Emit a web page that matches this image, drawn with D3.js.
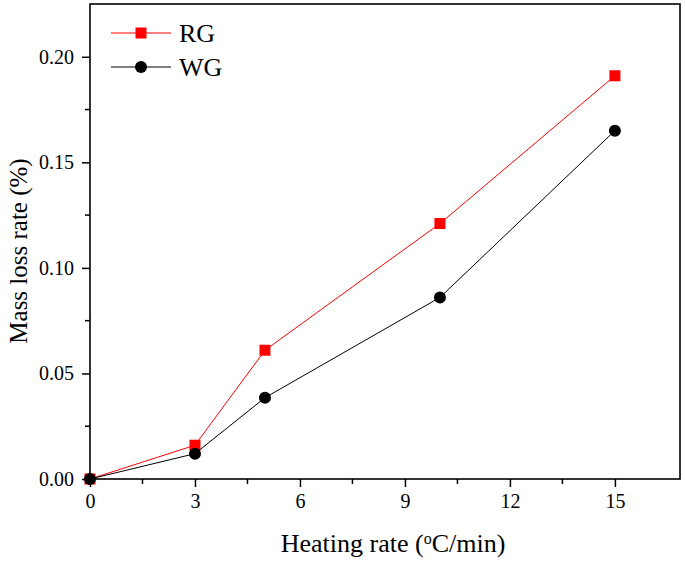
<!DOCTYPE html>
<html>
<head>
<meta charset="utf-8">
<script src="https://cdn.jsdelivr.net/npm/d3@7"></script>
<style>
  body { margin: 0; background: #fff; }
  svg { font-family: "Liberation Serif", "Times New Roman", serif; }
</style>
</head>
<body>
<div id="chart"></div>
<script>
// Data
const heatingRates = [0, 3, 5, 10, 15];
const rgValues = [0, 0.016, 0.061, 0.121, 0.191];
const wgValues = [0, 0.012, 0.0385, 0.086, 0.165];
const xTicks = [0, 3, 6, 9, 12, 15];
const yTicks = [0, 0.05, 0.10, 0.15, 0.20];

const width = 685;
const height = 563;
const margin = { top: 4, right: 5, bottom: 84, left: 90 };

const svg = d3.select('#chart')
    .append('svg')
    .attr('width', width)
    .attr('height', height);

const xScale = d3.scaleLinear()
    .domain([0, 16.86])
    .range([margin.left, width - margin.right]);

const yScale = d3.scaleLinear()
    .domain([0, 0.225])
    .range([height - margin.bottom, margin.top]);

// Frame
svg.append('rect')
    .attr('x', margin.left)
    .attr('y', margin.top)
    .attr('width', width - margin.right - margin.left)
    .attr('height', height - margin.bottom - margin.top)
    .attr('fill', 'none')
    .attr('stroke', '#000')
    .attr('stroke-width', 1.6);

// Minor ticks sit halfway between the labelled ones
const xMinor = d3.range(1.5, 16.5, 3);
const yMinor = d3.range(0.025, 0.225, 0.05);

const xAxis = svg.append('g')
    .attr('transform', `translate(0, ${height - margin.bottom})`)
    .call(d3.axisBottom(xScale).tickValues(xTicks).tickFormat(d3.format('d')).tickSize(8).tickPadding(7));
xAxis.append('g').selectAll('line')
    .data(xMinor)
    .join('line')
    .attr('x1', d => xScale(d)).attr('x2', d => xScale(d))
    .attr('y1', 0).attr('y2', 5)
    .attr('stroke', '#000').attr('stroke-width', 1.5);

const yAxis = svg.append('g')
    .attr('transform', `translate(${margin.left}, 0)`)
    .call(d3.axisLeft(yScale).tickValues(yTicks).tickFormat(d3.format('.2f')).tickSize(8).tickPadding(8));
yAxis.append('g').selectAll('line')
    .data(yMinor)
    .join('line')
    .attr('y1', d => yScale(d)).attr('y2', d => yScale(d))
    .attr('x1', 0).attr('x2', -5)
    .attr('stroke', '#000').attr('stroke-width', 1.5);

svg.selectAll('.domain').remove();
svg.selectAll('.tick line').attr('stroke-width', 1.5);
svg.selectAll('.tick text')
    .attr('font-size', 20)
    .attr('font-family', '"Liberation Serif", serif')
    .attr('fill', '#000');

// Axis titles
svg.append('text')
    .attr('x', 393)
    .attr('y', 552)
    .attr('text-anchor', 'middle')
    .attr('font-size', 26)
    .html('Heating rate (<tspan baseline-shift="super" font-size="16">o</tspan>C/min)');

svg.append('text')
    .attr('transform', `translate(27, 251) rotate(-90)`)
    .attr('text-anchor', 'middle')
    .attr('font-size', 25)
    .text('Mass loss rate (%)');

// Series
const series = [
    { name: 'RG', values: rgValues, color: '#ff0000', shape: 'square' },
    { name: 'WG', values: wgValues, color: '#000000', shape: 'circle' }
];

const line = d3.line()
    .x(d => xScale(d[0]))
    .y(d => yScale(d[1]));

function drawMarker(g, shape, color, x, y) {
    if (shape === 'square') {
        g.append('rect')
            .attr('x', x - 5.5).attr('y', y - 5.5)
            .attr('width', 11).attr('height', 11)
            .attr('fill', color);
    } else {
        g.append('circle')
            .attr('cx', x).attr('cy', y).attr('r', 6)
            .attr('fill', color);
    }
}

series.forEach(s => {
    const pts = heatingRates.map((h, i) => [h, s.values[i]]);
    svg.append('path')
        .datum(pts)
        .attr('d', line)
        .attr('fill', 'none')
        .attr('stroke', s.color)
        .attr('stroke-width', 1);
    const g = svg.append('g');
    pts.forEach(p => drawMarker(g, s.shape, s.color, xScale(p[0]), yScale(p[1])));
});

// Legend
series.forEach((s, i) => {
    const y = 33 + i * 34;
    const g = svg.append('g');
    g.append('line')
        .attr('x1', 111).attr('x2', 171)
        .attr('y1', y).attr('y2', y)
        .attr('stroke', s.color).attr('stroke-width', 1);
    drawMarker(g, s.shape, s.color, 141, y);
    g.append('text')
        .attr('x', 179)
        .attr('y', y + 9)
        .attr('font-size', 26)
        .text(s.name);
});
</script>
</body>
</html>
